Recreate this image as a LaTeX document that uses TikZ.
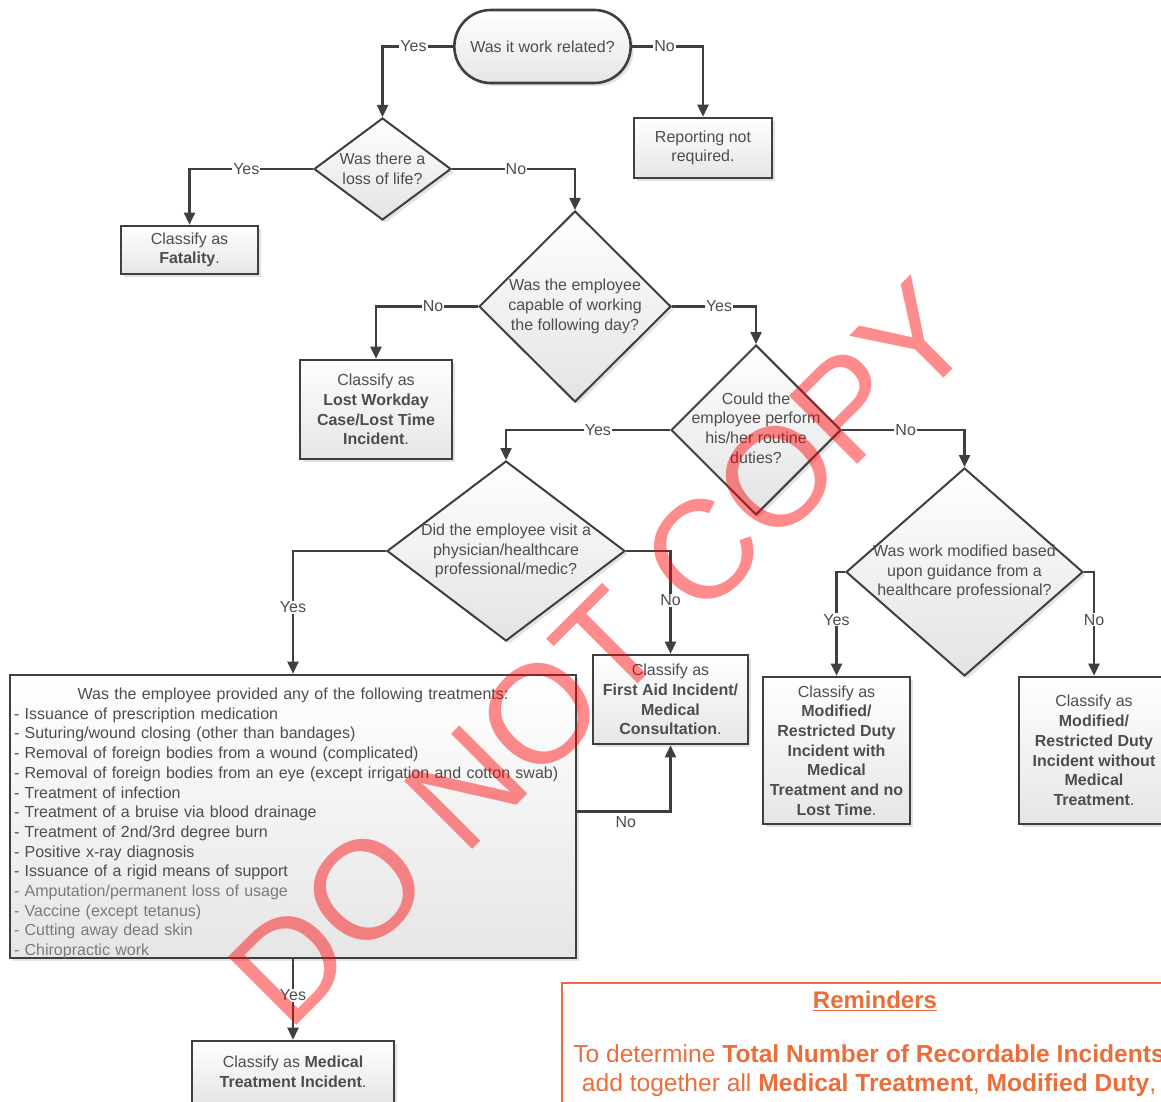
\documentclass[tikz,border=0pt]{standalone}
\usepackage{fontspec}
\setmainfont{Liberation Sans}
\usepackage{tikz}
\usetikzlibrary{shapes.geometric, shapes.misc, shadows, arrows.meta}

\definecolor{borda}{HTML}{3F3F3F}
\definecolor{texto}{HTML}{4D4D4D}
\definecolor{claro}{HTML}{7A7A7A}
\definecolor{laranja}{HTML}{EB6D3A}

\begin{document}
\begin{tikzpicture}[x=1pt, y=-1pt, >={Triangle[length=12pt,width=11pt]},
    txt/.style={font=\fontsize{16}{19.7}\selectfont, text=texto, align=center},
    sombra/.style={drop shadow={shadow xshift=3pt, shadow yshift=-3pt, opacity=0.22}},
    caixa/.style={txt, rectangle, draw=borda, line width=2.6pt, top color=white, bottom color=black!10, sombra, inner sep=2pt},
    losango/.style={diamond, draw=borda, line width=2pt, top color=white, bottom color=black!11, sombra, inner sep=0pt},
    inicio/.style={txt, rounded rectangle, draw=borda, line width=2.6pt, top color=white, bottom color=black!10, sombra},
    seta/.style={->, draw=borda, line width=2.4pt},
    rot/.style={txt, fill=white, inner sep=1pt}]
    % area do desenho (1161 x 1102 px)
    \useasboundingbox (0,0) rectangle (1161,1102);
    \clip (0,0) rectangle (1161,1102);

    % Inicio
    \node[inicio, minimum width=183pt, minimum height=73pt] (work) at (542.5,46.5) {Was it work related?};
    \node[caixa, minimum width=138pt, minimum height=60pt] (notreq) at (703,148) {Reporting not\\required.};

    % Perguntas (losangos)
    \node[losango, minimum width=137pt, minimum height=102pt,
        label={[txt]center:Was there a\\loss of life?}] (loss) at (382.5,169) {};
    \node[losango, minimum width=192pt, minimum height=191pt,
        label={[txt]center:Was the employee\\capable of working\\the following day?}] (capable) at (575,306.5) {};
    \node[losango, minimum width=170pt, minimum height=170pt,
        label={[txt, yshift=2pt]center:Could the\\employee perform\\his/her routine\\duties?}] (routine) at (756,430) {};
    \node[losango, minimum width=238pt, minimum height=180pt,
        label={[txt]center:Did the employee visit a\\physician/healthcare\\professional/medic?}] (visit) at (506,551) {};
    \node[losango, minimum width=237pt, minimum height=208pt,
        label={[txt]center:Was work modified based\\upon guidance from a\\healthcare professional?}] (modif) at (964.5,572) {};

    % Classificacoes
    \node[caixa, minimum width=137pt, minimum height=48pt] (fatal) at (189.5,250) {Classify as\\\textbf{Fatality}.};
    \node[caixa, minimum width=152pt, minimum height=99pt] (lost) at (376,409.5)
        {Classify as\\\textbf{Lost Workday}\\\textbf{Case/Lost Time}\\\textbf{Incident}.};
    \node[caixa, minimum width=155pt, minimum height=89pt] (firstaid) at (670.5,699.5)
        {Classify as\\\textbf{First Aid Incident/}\\\textbf{Medical}\\\textbf{Consultation}.};
    \node[caixa, minimum width=147pt, minimum height=147pt] (withmed) at (836.5,750.5)
        {Classify as\\\textbf{Modified/}\\\textbf{Restricted Duty}\\\textbf{Incident with}\\\textbf{Medical}\\\textbf{Treatment and no}\\\textbf{Lost Time}.};
    \node[caixa, minimum width=150pt, minimum height=147pt] (without) at (1094,750.5)
        {Classify as\\\textbf{Modified/}\\\textbf{Restricted Duty}\\\textbf{Incident without}\\\textbf{Medical}\\\textbf{Treatment}.};
    \node[caixa, minimum width=202pt, minimum height=62pt] (medtreat) at (293,1072)
        {Classify as \textbf{Medical}\\\textbf{Treatment Incident}.};

    % Lista de tratamentos
    \node[caixa, minimum width=566pt, minimum height=283pt,
        label={[txt, text width=558pt, align=left, yshift=-7pt]center:\makebox[558pt]{Was the employee provided any of the following treatments:}\\
        - Issuance of prescription medication\\
        - Suturing/wound closing (other than bandages)\\
        - Removal of foreign bodies from a wound (complicated)\\
        - Removal of foreign bodies from an eye (except irrigation and cotton swab)\\
        - Treatment of infection\\
        - Treatment of a bruise via blood drainage\\
        - Treatment of 2nd/3rd degree burn\\
        - Positive x-ray diagnosis\\
        - Issuance of a rigid means of support\\
        \color{claro}- Amputation/permanent loss of usage\\
        - Vaccine (except tetanus)\\
        - Cutting away dead skin\\
        - Chiropractic work}] (treat) at (293,816.5) {};

    % Conectores
    \draw[seta] (work.west) -| node[rot, pos=0.28] {Yes} (loss.north);
    \draw[seta] (work.east) -| node[rot, pos=0.23] {No} (notreq.north);
    \draw[seta] (loss.west) -| node[rot, pos=0.27] {Yes} (fatal.north);
    \draw[seta] (loss.east) -| node[rot, pos=0.26] {No} (capable.north);
    \draw[seta] (capable.west) -| node[rot, pos=0.22] {No} (lost.north);
    \draw[seta] (capable.east) -| node[rot, pos=0.28] {Yes} (routine.north);
    \draw[seta] (routine.west) -| node[rot, pos=0.22] {Yes} (visit.north);
    \draw[seta] (routine.east) -| node[rot, pos=0.26] {No} (modif.north);
    \draw[seta] (visit.west) -| node[rot, pos=0.73] {Yes} (treat.north);
    \draw[seta] (visit.east) -| node[rot, pos=0.74] {No} (firstaid.north);
    \draw[seta] (modif.west) -| node[rot, pos=0.73] {Yes} (withmed.north);
    \draw[seta] (modif.east) -| node[rot, pos=0.73] {No} (without.north);
    \draw[seta] ([yshift=5pt]treat.east) -| node[txt, below, pos=0.26] {No} (firstaid.south);
    \draw[seta] (treat.south) -- node[rot, pos=0.45] {Yes} (medtreat.north);

    % Lembretes
    \node[draw=laranja, line width=2pt, anchor=north west, minimum width=628pt, minimum height=200pt] (lembrete) at (561,982) {};
    \node[anchor=north, text=laranja, font=\fontsize{24}{29}\selectfont\bfseries, inner sep=0pt] (titulo) at (875,991) {\underline{Reminders}};
    \node[anchor=north, text=laranja, align=center, font=\fontsize{24.6}{29}\selectfont, inner sep=0pt] (lembtxt) at (869,1044)
        {To determine \textbf{Total Number of Recordable Incidents}\\
        add together all \textbf{Medical Treatment}, \textbf{Modified Duty},};

    % Marca d'agua
    \node[rotate=45, text=red, opacity=0.45, font=\fontsize{140}{140}\selectfont, inner sep=0pt] (marca) at (601,653) {DO NOT COPY};
\end{tikzpicture}
\end{document}
